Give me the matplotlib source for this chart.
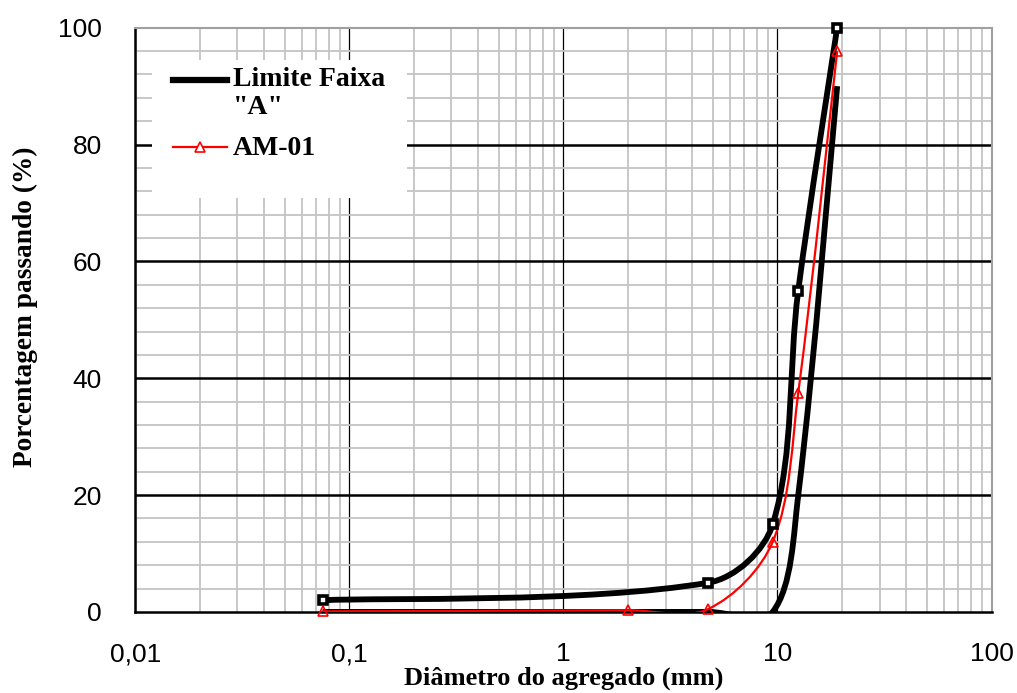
import numpy as np
import matplotlib
matplotlib.use('Agg')
import matplotlib.pyplot as plt
from matplotlib.path import Path
from matplotlib.patches import PathPatch, Rectangle
from matplotlib.lines import Line2D
from matplotlib.ticker import FixedLocator, FixedFormatter, NullFormatter

# sieve openings (mm)
sieves = [0.075, 4.75, 9.5, 12.5, 19.0]
upper = [2, 5, 15, 55, 100]
lower = [0, 0, 0, 20, 90]

am_sieves = [0.075, 2.0, 4.75, 9.5, 12.5, 19.0]
am01 = [0.1, 0.3, 0.5, 12, 37.5, 96]

xticks = [0.01, 0.1, 1, 10, 100]
xticklabels = ['0,01', '0,1', '1', '10', '100']
yticks = [0, 20, 40, 60, 80, 100]


def smooth_path(ax, xs, ys):
    # Excel-like smoothed line: bezier built in screen space, chord-weighted tangents
    p = ax.transData.transform(np.column_stack([xs, ys]))
    n = len(p)
    d = np.hypot(*np.diff(p, axis=0).T)
    out_c, in_c = [], []
    for i in range(n):
        if i == 0:
            t = (p[1] - p[0]) / 6
            out_c.append(p[0] + t)
            in_c.append(p[0])
        elif i == n - 1:
            t = (p[-1] - p[-2]) / 6
            in_c.append(p[-1] - t)
            out_c.append(p[-1])
        else:
            t = p[i + 1] - p[i - 1]
            tot = d[i - 1] + d[i]
            in_c.append(p[i] - t * d[i - 1] / tot / 3)
            out_c.append(p[i] + t * d[i] / tot / 3)
    verts = [p[0]]
    codes = [Path.MOVETO]
    for i in range(n - 1):
        verts += [out_c[i], in_c[i + 1], p[i + 1]]
        codes += [Path.CURVE4] * 3
    verts = ax.transData.inverted().transform(np.array(verts))
    return Path(verts, codes)


fig = plt.figure(figsize=(10.17, 6.93), dpi=100)
ax = fig.add_axes([0.133, 0.117, 0.842, 0.843])
ax.set_xscale('log')
ax.set_xlim(0.01, 100)
ax.set_ylim(0, 100)

# grid
ax.xaxis.set_major_locator(FixedLocator(xticks))
ax.xaxis.set_major_formatter(FixedFormatter(xticklabels))
ax.xaxis.set_minor_locator(FixedLocator([m * d for d in [0.01, 0.1, 1, 10] for m in range(2, 10)]))
ax.xaxis.set_minor_formatter(NullFormatter())
ax.yaxis.set_major_locator(FixedLocator(yticks))
ax.yaxis.set_minor_locator(FixedLocator([v for v in range(0, 101, 4) if v % 20]))
ax.grid(which='minor', color='#c4c4c4', linewidth=1.3)
ax.grid(which='major', axis='x', color='black', linewidth=0.9)
for v in yticks[1:-1]:
    ax.axhline(v, color='black', linewidth=1.8, zorder=1)
ax.set_axisbelow(True)
ax.tick_params(which='both', length=0)
ax.tick_params(axis='x', pad=22, labelsize=19)
ax.tick_params(axis='y', pad=24, labelsize=19)
for lab in ax.get_xticklabels() + ax.get_yticklabels():
    lab.set_fontfamily('Liberation Sans')

for s in ['top', 'right']:
    ax.spines[s].set_color('#a0a0a0')
    ax.spines[s].set_linewidth(1.5)
for s in ['left', 'bottom']:
    ax.spines[s].set_color('black')
    ax.spines[s].set_linewidth(1.8)

# curves
ax.add_patch(PathPatch(smooth_path(ax, sieves, upper), fill=False, edgecolor='black',
                       linewidth=4.2, zorder=4))
ax.add_patch(PathPatch(smooth_path(ax, sieves, lower), fill=False, edgecolor='black',
                       linewidth=4.2, zorder=4))
ax.add_patch(PathPatch(smooth_path(ax, am_sieves, am01), fill=False, edgecolor='red',
                       linewidth=1.6, zorder=5))
ax.plot(sieves, upper, linestyle='none', marker='s', markersize=5.5, markerfacecolor='white',
        markeredgecolor='black', markeredgewidth=2.6, zorder=6, clip_on=False)
ax.plot(am_sieves, am01, linestyle='none', marker='^', markersize=6.5, markerfacecolor='none',
        markeredgecolor='red', markeredgewidth=1.2, zorder=7, clip_on=False)

ax.set_ylabel('Porcentagem passando (%)', fontsize=19.7,
              family='Liberation Serif', weight='bold')
ax.yaxis.set_label_coords(-0.114, 0.522)
ax.set_xlabel('Diâmetro do agregado (mm)', fontsize=19,
              family='Liberation Serif', weight='bold')
ax.xaxis.set_label_coords(0.5, -0.093)

# legend (white box, handle aligned with the first text line)
ax.add_patch(Rectangle((0.020, 0.709), 0.297, 0.236, transform=ax.transAxes,
                       facecolor='white', edgecolor='none', zorder=9))
ax.add_line(Line2D([0.044, 0.107], [0.911, 0.911], transform=ax.transAxes,
                   color='black', linewidth=4.5, zorder=10))
ax.add_line(Line2D([0.044, 0.107], [0.795, 0.795], transform=ax.transAxes,
                   color='red', linewidth=1.6, zorder=10))
ax.add_line(Line2D([0.0755], [0.795], transform=ax.transAxes, marker='^', markersize=6.5,
                   markerfacecolor='white', markeredgecolor='red', markeredgewidth=1.2, zorder=11))
leg_font = dict(family='Liberation Serif', weight='bold', size=20, va='center', ha='left',
                transform=ax.transAxes, zorder=11)
ax.text(0.114, 0.911, 'Limite Faixa', **leg_font)
ax.text(0.114, 0.863, '"A"', **leg_font)
ax.text(0.114, 0.793, 'AM-01', **leg_font)

plt.savefig('out.png', dpi=100)
